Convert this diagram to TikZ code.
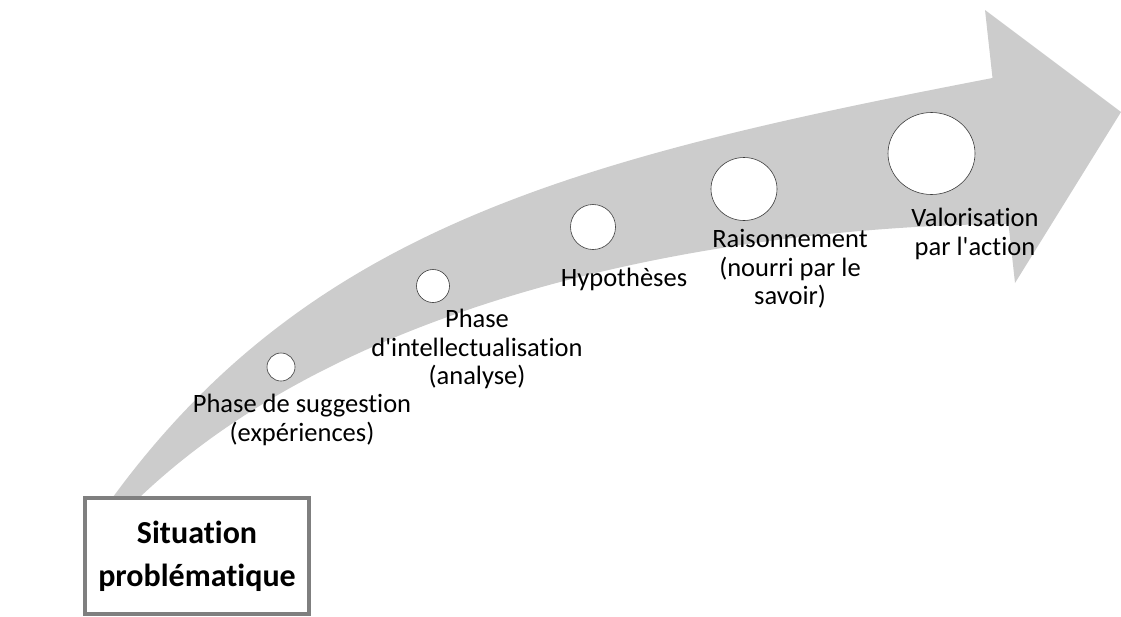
\documentclass[tikz,border=0pt]{standalone}
\usepackage{fontspec}
\setmainfont{Carlito}[Ligatures=NoCommon]
\usetikzlibrary{shapes.geometric}
\begin{document}
\definecolor{arrowgray}{RGB}{204,204,204}
\definecolor{boxgray}{RGB}{127,127,127}
\definecolor{ringgray}{RGB}{60,60,60}
\begin{tikzpicture}[x=1pt,y=-1pt,
  step label/.style={align=center,inner sep=0pt,font=\fontsize{26.5}{28.5}\selectfont},
  stage/.style={draw=ringgray,line width=0.6pt,fill=white,ellipse,inner sep=0pt},
  startbox/.style={draw=boxgray,line width=4pt,fill=white,align=center,
    font=\bfseries\fontsize{32}{43}\selectfont}]
\useasboundingbox (0,0) rectangle (1121,616);
% curved progress arrow: upper edge, head, lower edge
\fill[arrowgray]
  (96,520) -- (113,497) .. controls (311,227) and (577,158) .. (992.5,78)
  -- (985,10) -- (1121,112) -- (1015,283) -- (1008.5,224)
  .. controls (800,225) and (380,269) .. (140,497) -- (116,520) -- cycle;
% stage markers
\node[stage,minimum width=28pt,minimum height=28pt] (s1) at (281,367) {};
\node[stage,minimum width=33pt,minimum height=33pt] (s2) at (433,286) {};
\node[stage,minimum width=45pt,minimum height=45pt] (s3) at (593,227) {};
\node[stage,minimum width=66pt,minimum height=63pt] (s4) at (744,189) {};
\node[stage,minimum width=87pt,minimum height=82pt] (s5) at (931.5,153.5) {};
% stage labels
\node[step label] (l1) at (302,420) {Phase de suggestion\\(expériences)};
\node[step label] (l2) at (477,349) {Phase\\d\textquotesingle intellectualisation\\(analyse)};
\node[step label] (l3) at (624,279) {Hypothèses};
\node[step label] (l4) at (790,269) {Raisonnement\\(nourri par le\\savoir)};
\node[step label] (l5) at (975,234) {Valorisation\\par l\textquotesingle action};
% starting situation
\node[startbox,minimum width=224pt,minimum height=116pt] (start) at (197,556) {Situation\\problématique};
\end{tikzpicture}
\end{document}
